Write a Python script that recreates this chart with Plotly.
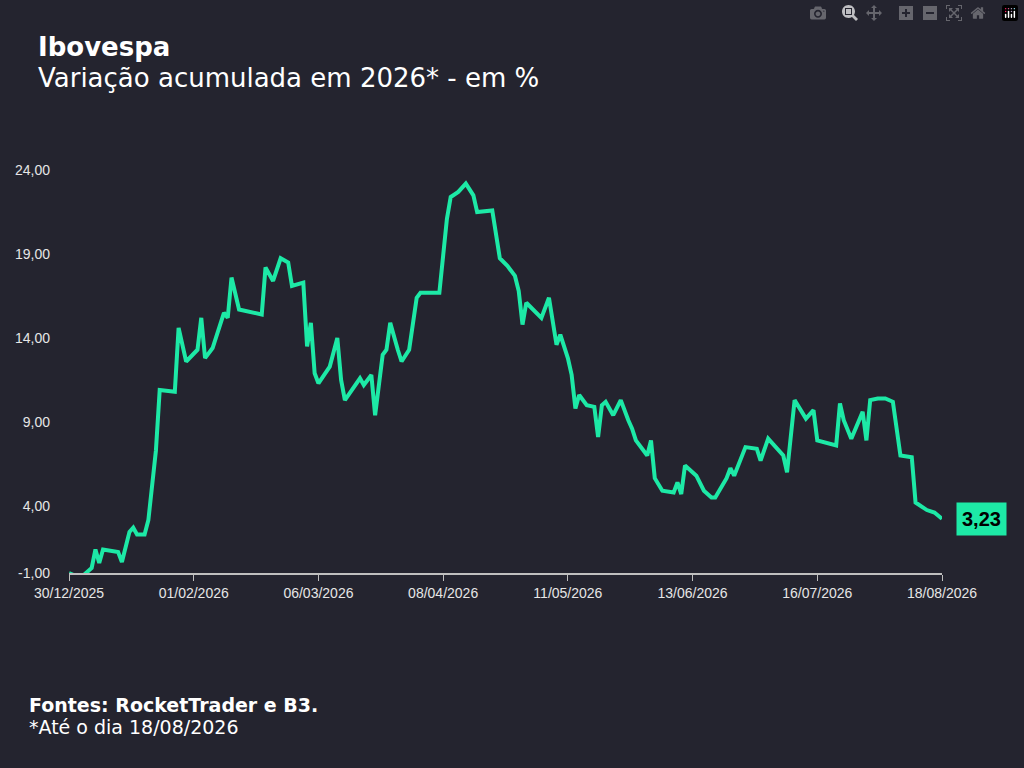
import pandas as pd
import plotly.graph_objects as go

# dias desde 30/12/2025 e variação acumulada (%)
dias = [0, 3, 6, 7, 8, 9, 13, 14, 16, 17, 18, 20, 21, 23, 24, 28, 29, 31, 34, 35, 36, 38,
        41, 42, 43, 45, 51, 52, 54, 56, 58, 59, 62, 63, 64, 65, 66, 69, 71, 72, 73, 77,
        78, 80, 81, 83, 84, 85, 87, 88, 90, 92, 93, 98, 100, 101, 103, 105, 107, 108,
        112, 114, 116, 118, 119, 120, 121, 125, 127, 129, 130, 132, 133, 134, 135, 137,
        139, 140, 141, 142, 144, 146, 148, 149, 150, 153, 154, 155, 157, 160, 161, 162,
        163, 166, 168, 170, 171, 174, 175, 176, 179, 182, 183, 185, 189, 190, 192, 195,
        197, 198, 203, 204, 205, 207, 210, 211, 212, 214, 216, 218, 220, 223, 224, 227,
        229, 231]
variacao = [0.0, -0.3, 0.3, 1.4, 0.6, 1.4, 1.25, 0.65, 2.45, 2.7, 2.3, 2.3, 3.15, 7.3,
            10.9, 10.8, 14.6, 12.6, 13.3, 15.2, 12.8, 13.4, 15.5, 15.2, 17.6, 15.7, 15.4,
            18.2, 17.4, 18.75, 18.5, 17.1, 17.3, 13.5, 14.9, 11.9, 11.3, 12.3, 14.0, 11.5,
            10.3, 11.6, 11.2, 11.8, 9.4, 13.0, 13.3, 14.9, 13.3, 12.6, 13.3, 16.4, 16.7,
            16.7, 21.1, 22.4, 22.7, 23.2, 22.5, 21.5, 21.6, 18.75, 18.3, 17.7, 16.8, 14.8,
            16.1, 15.2, 16.4, 13.6, 14.2, 12.8, 11.8, 9.8, 10.6, 10.0, 9.9, 8.1, 10.0, 10.2,
            9.4, 10.3, 9.1, 8.6, 7.9, 7.0, 7.9, 5.65, 4.9, 4.8, 5.4, 4.7, 6.4, 5.8, 4.9,
            4.5, 4.5, 5.65, 6.25, 5.8, 7.5, 7.4, 6.7, 8.0, 7.0, 6.0, 10.3, 9.2, 9.7, 7.9,
            7.6, 10.1, 9.1, 8.0, 9.6, 7.9, 10.3, 10.4, 10.4, 10.2, 7.0, 6.9, 4.2, 3.75,
            3.6, 3.23]
tick_datas = ["2025-12-30", "2026-02-01", "2026-03-06", "2026-04-08", "2026-05-11",
              "2026-06-13", "2026-07-16", "2026-08-18"]
tick_textos = ["30/12/2025", "01/02/2026", "06/03/2026", "08/04/2026", "11/05/2026",
               "13/06/2026", "16/07/2026", "18/08/2026"]
y_ticks = [0, 4, 9, 14, 19, 24]
y_textos = ["-1,00", "4,00", "9,00", "14,00", "19,00", "24,00"]

datas = pd.Timestamp("2025-12-30") + pd.to_timedelta(dias, unit="D")

BG = "#24242f"
VERDE = "#1de9a6"

fig = go.Figure(go.Scatter(x=datas, y=variacao, mode="lines",
                           line=dict(color=VERDE, width=4), hoverinfo="skip"))

fig.update_layout(
    width=1024, height=768,
    paper_bgcolor=BG, plot_bgcolor=BG,
    margin=dict(l=69, r=82, t=150, b=195),
    showlegend=False,
    font=dict(family="Liberation Sans, Arial", color="#e6e6e6"),
)
fig.update_xaxes(range=["2025-12-30", "2026-08-18"], tickvals=tick_datas, ticktext=tick_textos,
                 showgrid=False, zeroline=False, showline=True, linecolor="#bfbfbf",
                 linewidth=1.5, ticks="outside", ticklen=6, tickcolor="#bfbfbf",
                 tickfont=dict(size=14, color="#e6e6e6"))
fig.update_yaxes(range=[0, 25.2], tickvals=y_ticks, ticktext=y_textos, showgrid=False,
                 zeroline=False, showline=False, ticks="", ticklabelstandoff=18,
                 tickfont=dict(size=14, color="#e6e6e6"))

fig.add_annotation(x=datas[-1], y=variacao[-1], text="<b>" + f"{variacao[-1]:.2f}".replace(".", ",") + "</b>",
                   showarrow=False, xanchor="left", xshift=14, bgcolor=VERDE,
                   font=dict(size=20, color="#000000", family="Liberation Sans, Arial"),
                   borderpad=5)

fig.add_annotation(xref="paper", yref="paper", x=-0.038, y=1.243, xanchor="left", yanchor="middle",
                   text="<b>Ibovespa</b>", showarrow=False,
                   font=dict(size=26, color="#ffffff", family="DejaVu Sans"))
fig.add_annotation(xref="paper", yref="paper", x=-0.038, y=1.170, xanchor="left", yanchor="middle",
                   text="Variação acumulada em 2026* - em %", showarrow=False,
                   font=dict(size=26, color="#ffffff", family="DejaVu Sans"))
fig.add_annotation(xref="paper", yref="paper", x=-0.048, y=-0.312, xanchor="left", yanchor="middle",
                   text="<b>Fontes: RocketTrader e B3.</b>", showarrow=False,
                   font=dict(size=19, color="#ffffff", family="DejaVu Sans"))
fig.add_annotation(xref="paper", yref="paper", x=-0.048, y=-0.364, xanchor="left", yanchor="middle",
                   text="*Até o dia 18/08/2026", showarrow=False,
                   font=dict(size=19, color="#ffffff", family="DejaVu Sans"))

fig.write_html("out.html", post_script="document.body.style.margin='0';")
